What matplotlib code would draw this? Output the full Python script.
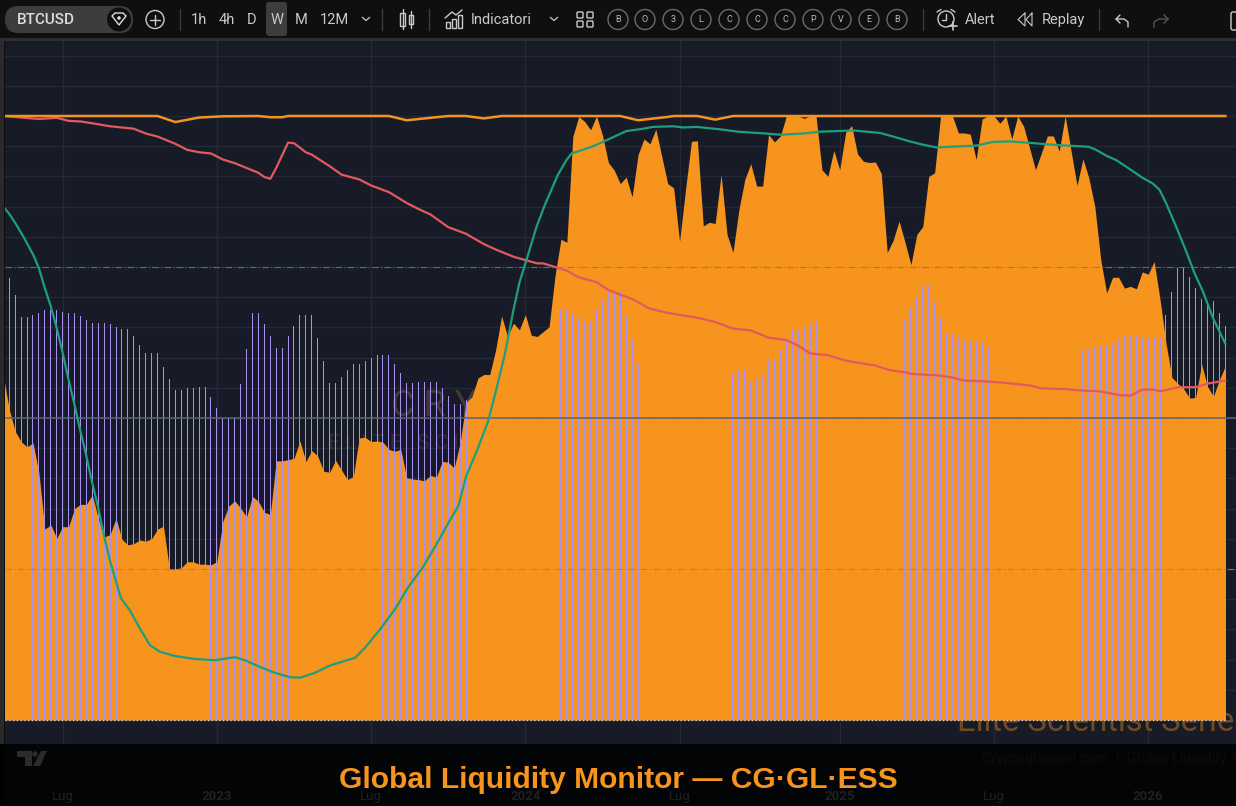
import numpy as np
import matplotlib
matplotlib.use("Agg")
import matplotlib.pyplot as plt
from matplotlib.patches import Circle, FancyBboxPatch, Polygon, Rectangle

# weekly bars (oscillator 0-100)
bar_vals = [73.2, 70.4, 66.8, 66.8, 67.1, 67.4, 67.8, 67.8, 67.8, 67.6,
            67.4, 67.4, 66.9, 66.3, 65.8, 65.8, 65.8, 65.5, 65.1, 64.8,
            64.8, 63.5, 62.1, 60.8, 60.8, 60.7, 58.5, 56.5, 54.7, 54.7,
            54.9, 55.0, 55.2, 55.2, 53.4, 51.7, 50.0, 50.0, 50.0, 55.7,
            61.5, 67.4, 67.4, 65.5, 63.6, 61.6, 61.6, 63.5, 65.3, 67.1,
            67.1, 67.1, 63.2, 59.5, 55.8, 55.8, 56.8, 58.0, 59.0, 59.0,
            59.5, 60.0, 60.5, 60.5, 60.5, 59.0, 57.5, 55.8, 55.8, 56.0,
            56.0, 56.0, 56.0, 54.9, 53.7, 52.4, 52.4, 53.0, 52.7, 53.0,
            53.4, 53.4, 53.4, 55.4, 57.3, 57.3, 56.8, 56.6, 56.6, 56.8,
            56.8, 60.5, 64.3, 68.0, 68.0, 67.4, 66.8, 66.1, 66.1, 68.0,
            69.7, 71.4, 71.0, 71.0, 67.1, 63.1, 59.1, 59.1, 58.6, 58.0,
            57.5, 57.5, 56.5, 55.8, 55.1, 55.4, 55.4, 55.5, 55.7, 56.0,
            56.1, 56.7, 57.3, 58.1, 58.1, 56.0, 56.5, 57.0, 59.7, 59.7,
            61.3, 63.0, 64.6, 64.6, 65.1, 65.6, 65.9, 66.1, 66.1, 64.6,
            63.1, 61.6, 61.6, 63.7, 65.9, 67.9, 68.0, 67.4, 66.9, 66.3,
            66.3, 66.3, 68.2, 70.0, 71.9, 71.9, 69.3, 66.6, 64.0, 64.0,
            63.4, 63.1, 62.6, 62.6, 62.6, 61.8, 61.0, 60.4, 60.4, 60.4,
            60.4, 60.4, 60.6, 60.8, 61.3, 61.8, 62.1, 62.0, 61.8, 61.4,
            61.3, 61.3, 61.5, 61.8, 62.0, 62.0, 62.3, 63.1, 63.6, 63.6,
            63.6, 63.4, 63.4, 63.3, 63.3, 67.1, 70.9, 74.9, 74.9, 73.3,
            71.5, 69.7, 69.4, 69.4, 67.4, 65.2]

# orange area, starts one week before the first bar
area_vals = [57.0, 51.4, 47.8, 46.1, 45.2, 45.9, 40.9, 31.6, 32.3, 30.1,
             32.0, 32.0, 35.0, 35.7, 35.7, 37.3, 33.4, 30.3, 30.7, 33.4,
             29.9, 29.0, 29.2, 29.8, 29.6, 30.0, 31.6, 32.1, 25.0, 25.0,
             25.2, 26.2, 26.2, 25.8, 25.8, 25.7, 26.2, 32.9, 35.4, 36.3,
             35.1, 33.6, 37.0, 36.2, 34.4, 34.0, 42.9, 42.9, 43.1, 43.3,
             46.2, 42.8, 44.6, 43.7, 41.2, 41.0, 43.0, 41.4, 39.8, 40.3,
             46.7, 46.8, 46.1, 46.2, 46.0, 44.8, 44.5, 44.8, 40.1, 39.9,
             39.8, 39.6, 40.5, 40.2, 42.8, 42.7, 41.7, 45.9, 52.6, 53.5,
             56.6, 57.2, 57.2, 61.3, 66.9, 63.5, 65.7, 64.6, 67.1, 63.7,
             63.5, 64.3, 65.1, 73.5, 79.6, 79.1, 96.6, 99.9, 99.1, 97.7,
             100, 96.8, 92.3, 91.0, 88.8, 89.9, 86.6, 93.6, 96.2, 95.4,
             97.8, 93.3, 88.8, 88.1, 79.2, 87.8, 95.8, 95.9, 81.8, 82.4,
             82.2, 90.3, 80.4, 77.4, 84.5, 89.5, 92.1, 88.4, 88.4, 96.9,
             95.7, 96.7, 100, 100, 100, 99.6, 100, 100, 91.1, 90.0,
             94.3, 91.1, 97.3, 98.4, 93.7, 92.5, 92.3, 92.4, 90.5, 77.4,
             79.4, 82.6, 79.1, 75.4, 80.4, 81.7, 90.0, 90.6, 100, 100,
             100, 97.2, 97.2, 97.0, 92.8, 99.5, 100, 100, 98.8, 100,
             96.2, 100, 98.3, 94.7, 91.1, 93.9, 96.7, 96.7, 94.2, 100,
             94.2, 88.5, 92.9, 89.7, 85.0, 76.2, 70.7, 73.3, 73.3, 71.5,
             71.8, 71.4, 74.2, 73.8, 75.9, 69.6, 62.4, 56.7, 55.7, 54.8,
             53.3, 53.4, 58.9, 55.2, 53.6, 56.3, 58.6]

top_weeks = [-1, 25, 28, 32, 36, 42, 44, 46, 47, 64, 67, 72, 74, 77, 80, 83,
             103, 106, 111, 112, 116, 119, 122, 205]
top_vals = [100, 100, 99.0, 99.75, 99.95, 100, 99.8, 99.8, 100, 100, 99.3, 99.8,
            100, 100, 99.6, 100, 100, 99.3, 99.85, 100, 100, 99.4, 100, 100]

red_weeks = [-1, 5, 8, 10, 12, 14, 17, 21, 23, 25, 28, 30, 32, 34, 36, 38, 40,
             42, 43, 44, 45, 47, 48, 50, 51, 54, 56, 59, 61, 64, 67, 69, 71,
             74, 77, 80, 82, 85, 89, 90, 94, 96, 99, 101, 102, 105, 108, 111,
             116, 119, 122, 125, 128, 131, 133, 135, 138, 141, 144, 146, 148.5,
             151.5, 152, 156, 158.5, 161, 164, 167, 172, 174, 178, 180, 184,
             187, 189, 191, 193, 194, 197, 200, 202, 205]
red_vals = [100.0, 99.5, 99.7, 99.2, 99.1, 98.8, 98.3, 97.9, 97.1, 96.6, 95.4,
            94.4, 94.0, 93.8, 92.8, 92.2, 91.4, 90.6, 89.9, 89.6, 91.4, 95.6,
            95.5, 94.0, 93.6, 91.7, 90.3, 89.5, 88.5, 87.4, 85.6, 84.6, 83.7,
            81.6, 80.5, 78.8, 77.9, 76.7, 75.6, 75.6, 74.4, 73.3, 72.5, 71.2,
            70.8, 69.7, 68.1, 67.4, 66.6, 65.9, 64.8, 64.5, 63.3, 62.9, 62.0,
            60.7, 60.4, 59.5, 59.0, 58.7, 57.9, 57.5, 57.3, 57.1, 56.8, 56.2,
            56.1, 55.9, 55.4, 54.9, 54.8, 54.6, 54.4, 53.8, 53.7, 54.7, 54.7,
            54.4, 55.1, 55.1, 55.7, 56.2]

green_weeks = [-1, 0, 1, 2.4, 4.1, 5, 6, 7, 8, 9, 10, 11, 12, 13, 14, 15, 16, 17,
               18.3, 18.8, 20.3, 22, 23.7, 25.4, 27.9, 31.3, 34.7, 38, 39.7, 42.2,
               44.8, 47.3, 49, 51.5, 54, 56.6, 58.3, 60, 62.5, 65, 67.2, 69.8,
               72.6, 74, 75.7, 77, 78.8, 80.7, 82.1, 83.6, 85, 86, 87.2, 88.9,
               90.3, 92.5, 94, 94.8, 97.9, 99.6, 104, 106.9, 108.5, 112, 113.6,
               115.9, 119.8, 122.9, 127.6, 130, 133.8, 136.6, 142.3, 146.8, 149,
               151.8, 153.8, 156.3, 163, 165.8, 168.6, 171.4, 176.5, 182, 183.2,
               185, 186.6, 188.3, 191, 192.8, 193.9, 195, 196.7, 198.4, 199.8,
               201.2, 202.9, 205]
green_vals = [85.0, 83.8, 82.3, 80.0, 76.9, 74.8, 71.5, 68.5, 64.9, 60.8, 56.3,
              52.2, 47.8, 43.7, 39.2, 35.1, 30.4, 26.3, 21.9, 20.2, 18.2, 15.2,
              12.4, 11.3, 10.6, 10.1, 9.9, 10.4, 9.9, 8.8, 7.8, 7.1, 7.0, 7.8, 9.0,
              9.8, 10.3, 12.0, 15.0, 18.3, 21.9, 25.4, 30.1, 32.6, 35.4, 40.3, 44.5,
              49.4, 54.7, 60.8, 67.9, 72.4, 76.2, 81.7, 85.3, 90.3, 92.8, 93.8,
              94.8, 95.5, 97.5, 97.9, 98.2, 98.3, 98.1, 98.2, 97.8, 97.4, 97.1,
              96.9, 97.1, 97.4, 97.6, 97.2, 96.6, 95.8, 95.3, 94.8, 95.1, 95.7,
              95.8, 95.6, 95.2, 94.9, 94.4, 93.4, 92.7, 91.6, 89.8, 88.8, 87.8,
              85.6, 81.7, 77.6, 74.0, 71.0, 66.6, 62.3]

tick_weeks = [9, 35, 61, 87, 113, 140, 166, 192]
tick_labels = ["Lug", "2023", "Lug", "2024", "Lug", "2025", "Lug", "2026"]
ref_levels = [25, 50, 75]
toolbar_frames = [("1h", 199), ("4h", 227), ("D", 252), ("W", 277), ("M", 301), ("12M", 334)]
toolbar_circles = [("B", 618), ("O", 645), ("3", 673), ("L", 701), ("C", 729), ("C", 757),
                   ("C", 785), ("P", 813), ("V", 841), ("E", 869), ("B", 897)]

BG = "#171b28"
ORANGE = "#f7941d"
UI = "#c9c9c9"
WEEK_PX = 5.932

plt.rcParams["font.family"] = ["Roboto", "DejaVu Sans"]

fig = plt.figure(figsize=(12.36, 8.06), dpi=100, facecolor="#0f0f0f")

# main pane, one unit of y = 6.04 px
ax = fig.add_axes([5 / 1236, 0, 1231 / 1236, 765 / 806], facecolor=BG)
ax.set_xlim((5 - 9.26) / WEEK_PX, (1236 - 9.26) / WEEK_PX)
ax.set_ylim(-14.24, 112.42)
for s in ax.spines.values():
    s.set_visible(False)

ax.set_xticks(tick_weeks)
ax.set_xticklabels(tick_labels, color="#d1d4dc", fontsize=9.5)
for lab in ax.get_xticklabels():
    if lab.get_text().startswith("20"):
        lab.set_fontweight("bold")
ax.tick_params(axis="x", length=0, pad=-11.5)
ax.set_yticks(np.arange(-10, 115, 5))
ax.tick_params(axis="y", length=0, labelleft=False)
ax.grid(True, color="#252936", linewidth=1)
ax.set_axisbelow(True)

# watermark, sits under the area
ax.text(64.3, 52.0, "C R Y P T O", color="#463b34", fontsize=26, zorder=1, va="center", ha="left")
ax.text(53.7, 45.8, "E L I T E   S C I E N T I S T", color="#30303a", fontsize=15, zorder=1,
        va="center", ha="left")
ax.text(159.7, -1.9, "Elite Scientist Series", color="#6e4c22", fontsize=23.5, zorder=1,
        va="baseline", ha="left")
ax.text(163.9, -6.5, "Cryptograssini.com  |  Global Liquidity & Risk", color="#6e4c22", fontsize=10.5,
        zorder=1, va="center", ha="left")

area_weeks = np.arange(-1, 206)
bar_weeks = np.arange(206)
ax.fill_between(area_weeks, area_vals, 0, color=ORANGE, linewidth=0, zorder=2)
ax.bar(bar_weeks, bar_vals, width=1 / WEEK_PX, color="#a98ff2", linewidth=0, zorder=3)
ax.plot([-0.7, 205], [0, 0], color="#d8dbe6", linewidth=0.9, linestyle=(0, (1, 2)), zorder=3)

ax.axhline(ref_levels[1], color="#566475", linewidth=1.1, zorder=4)
ax.axhline(ref_levels[2], color="#4b8a80", linewidth=0.8, linestyle=(0, (6, 2, 1, 2)), alpha=0.8, zorder=4)
ax.axhline(ref_levels[0], color="#d9692f", linewidth=0.8, linestyle=(0, (6, 2, 1, 2)), alpha=0.8, zorder=4)

ax.plot(red_weeks, red_vals, color="#e05a60", linewidth=1.6, zorder=5)
ax.plot(green_weeks, green_vals, color="#1d9e7e", linewidth=1.6, zorder=5)
ax.plot(top_weeks, top_vals, color="#f39320", linewidth=1.8, zorder=5)

# overlay in screen pixels for toolbar, footer band and title
ui = fig.add_axes([0, 0, 1, 1])
ui.set_xlim(0, 1236)
ui.set_ylim(806, 0)
ui.axis("off")
ui.patch.set_alpha(0)

ui.add_patch(Rectangle((0, 744), 1236, 62, color="black", alpha=0.85, linewidth=0, zorder=1))
ui.add_patch(Rectangle((0, 0), 1236, 38, color="#0f0f0f", linewidth=0, zorder=2))
ui.add_patch(Rectangle((0, 38), 1236, 3, color="#2e2e2e", linewidth=0, zorder=2))
ui.add_patch(Rectangle((0, 41), 4, 703, color="#2a2a2a", linewidth=0, zorder=2))

# tradingview logo
ui.add_patch(Polygon([(17, 751), (32, 751), (32, 766), (25, 766), (25, 757), (17, 757)],
                     color="#2b2b2b", linewidth=0, zorder=3))
ui.add_patch(Circle((35, 754), 2.8, color="#2b2b2b", linewidth=0, zorder=3))
ui.add_patch(Polygon([(41, 751), (47, 751), (40, 766), (33, 766)], color="#2b2b2b", linewidth=0, zorder=3))

ui.text(618, 780, "Global Liquidity Monitor \u2014 CG\u00b7GL\u00b7ESS", color=ORANGE, fontsize=21.6,
        fontweight="bold", family="Liberation Sans", ha="center", va="center", zorder=4)


def ui_text(x, s, size=10.5, color=UI, weight="normal", ha="center"):
    ui.text(x, 20, s, color=color, fontsize=size, fontweight=weight, ha=ha, va="center", zorder=5)


def sep(x):
    ui.plot([x, x], [9, 30], color="#3a3a3a", linewidth=1, zorder=4)


def caret(x):
    ui.plot([x - 3.5, x, x + 3.5], [17.5, 20.5, 17.5], color=UI, linewidth=0.9, zorder=4)


def ring(x, y, r, color=UI, lw=1.0):
    ui.add_patch(Circle((x, y), r, fill=False, edgecolor=color, linewidth=lw, zorder=4))


def stroke(xs, ys, lw=1.0):
    ui.plot(xs, ys, color=UI, linewidth=lw, zorder=4, solid_capstyle="round")


# symbol pill
ui.add_patch(FancyBboxPatch((5, 6), 128, 27, boxstyle="round,pad=0,rounding_size=13.5",
                            color="#3d3d3d", linewidth=0, zorder=3))
ui.add_patch(Circle((119, 19.5), 12, color="#0f0f0f", linewidth=0, zorder=4))
ui.add_patch(Polygon([(112, 16), (115, 13), (123, 13), (126, 16), (119, 25)], fill=False,
                     edgecolor="#dddddd", linewidth=1, zorder=5))
ui.add_patch(Circle((119, 18), 1.8, color="#dddddd", linewidth=0, zorder=5))
ui_text(17, "BTCUSD", size=11, color="#dcdcdc", weight="medium", ha="left")

ring(155, 19.5, 9)
stroke([150, 160], [19.5, 19.5])
stroke([155, 155], [14.5, 24.5])

sep(180)
ui.add_patch(FancyBboxPatch((266, 2), 21, 34, boxstyle="round,pad=0,rounding_size=3",
                            color="#3d3d3d", linewidth=0, zorder=3))
for lab, x in toolbar_frames:
    ui_text(x, lab)
caret(366)
sep(382)

# candles icon
ui.add_patch(Rectangle((400, 13), 5, 13, fill=False, edgecolor=UI, linewidth=1, zorder=4))
ui.add_patch(Rectangle((408.5, 15), 4, 9, fill=False, edgecolor=UI, linewidth=1, zorder=4))
stroke([402.5, 402.5], [9, 29])
stroke([410.5, 410.5], [11, 28])
sep(429)

# indicators icon
stroke([445, 452, 456, 462], [18, 12, 15, 10])
for bx, by in [(445.5, 22), (451.5, 19), (457.5, 15)]:
    ui.add_patch(Rectangle((bx, by), 4.5, 27.5 - by, fill=False, edgecolor=UI, linewidth=1, zorder=4))
ui_text(471, "Indicatori", ha="left")
caret(554)

for gx, gy in [(577, 12), (587, 12), (577, 21), (587, 21)]:
    ui.add_patch(FancyBboxPatch((gx, gy), 6, 6, boxstyle="round,pad=0,rounding_size=1", fill=False,
                                edgecolor=UI, linewidth=1, zorder=4))

for lab, x in toolbar_circles:
    ring(x, 19.5, 10, color="#6a6a6a")
    ui_text(x, lab, size=6.5, color="#bdbdbd")
sep(923)

# alert icon
ring(946, 19, 8)
stroke([946, 946, 942], [14, 20, 20])
stroke([937, 941], [12, 9.5])
stroke([951, 955], [9.5, 12])
stroke([949, 957], [26, 26], 1.2)
stroke([953, 953], [22, 30], 1.2)
ui_text(965, "Alert", ha="left")

# replay icon
stroke([1025, 1018, 1025, 1025], [13, 19.5, 26, 13], 0.8)
stroke([1032, 1026, 1032, 1032], [13, 19.5, 26, 13], 0.8)
ui_text(1042, "Replay", ha="left")
sep(1099)

# undo and redo
stroke([1120, 1116, 1120], [15, 19, 23])
stroke([1116, 1124, 1128, 1128], [19, 19, 22, 27])
ui.plot([1164, 1168, 1164], [15, 19, 23], color="#555555", linewidth=1, zorder=4)
ui.plot([1168, 1159, 1154, 1154], [19, 19, 22, 27], color="#555555", linewidth=1, zorder=4)

ui.add_patch(FancyBboxPatch((1231, 12), 8, 18, boxstyle="round,pad=0,rounding_size=2", fill=False,
                            edgecolor=UI, linewidth=1, zorder=4))

fig.savefig("out.png", dpi=100, facecolor=fig.get_facecolor())
